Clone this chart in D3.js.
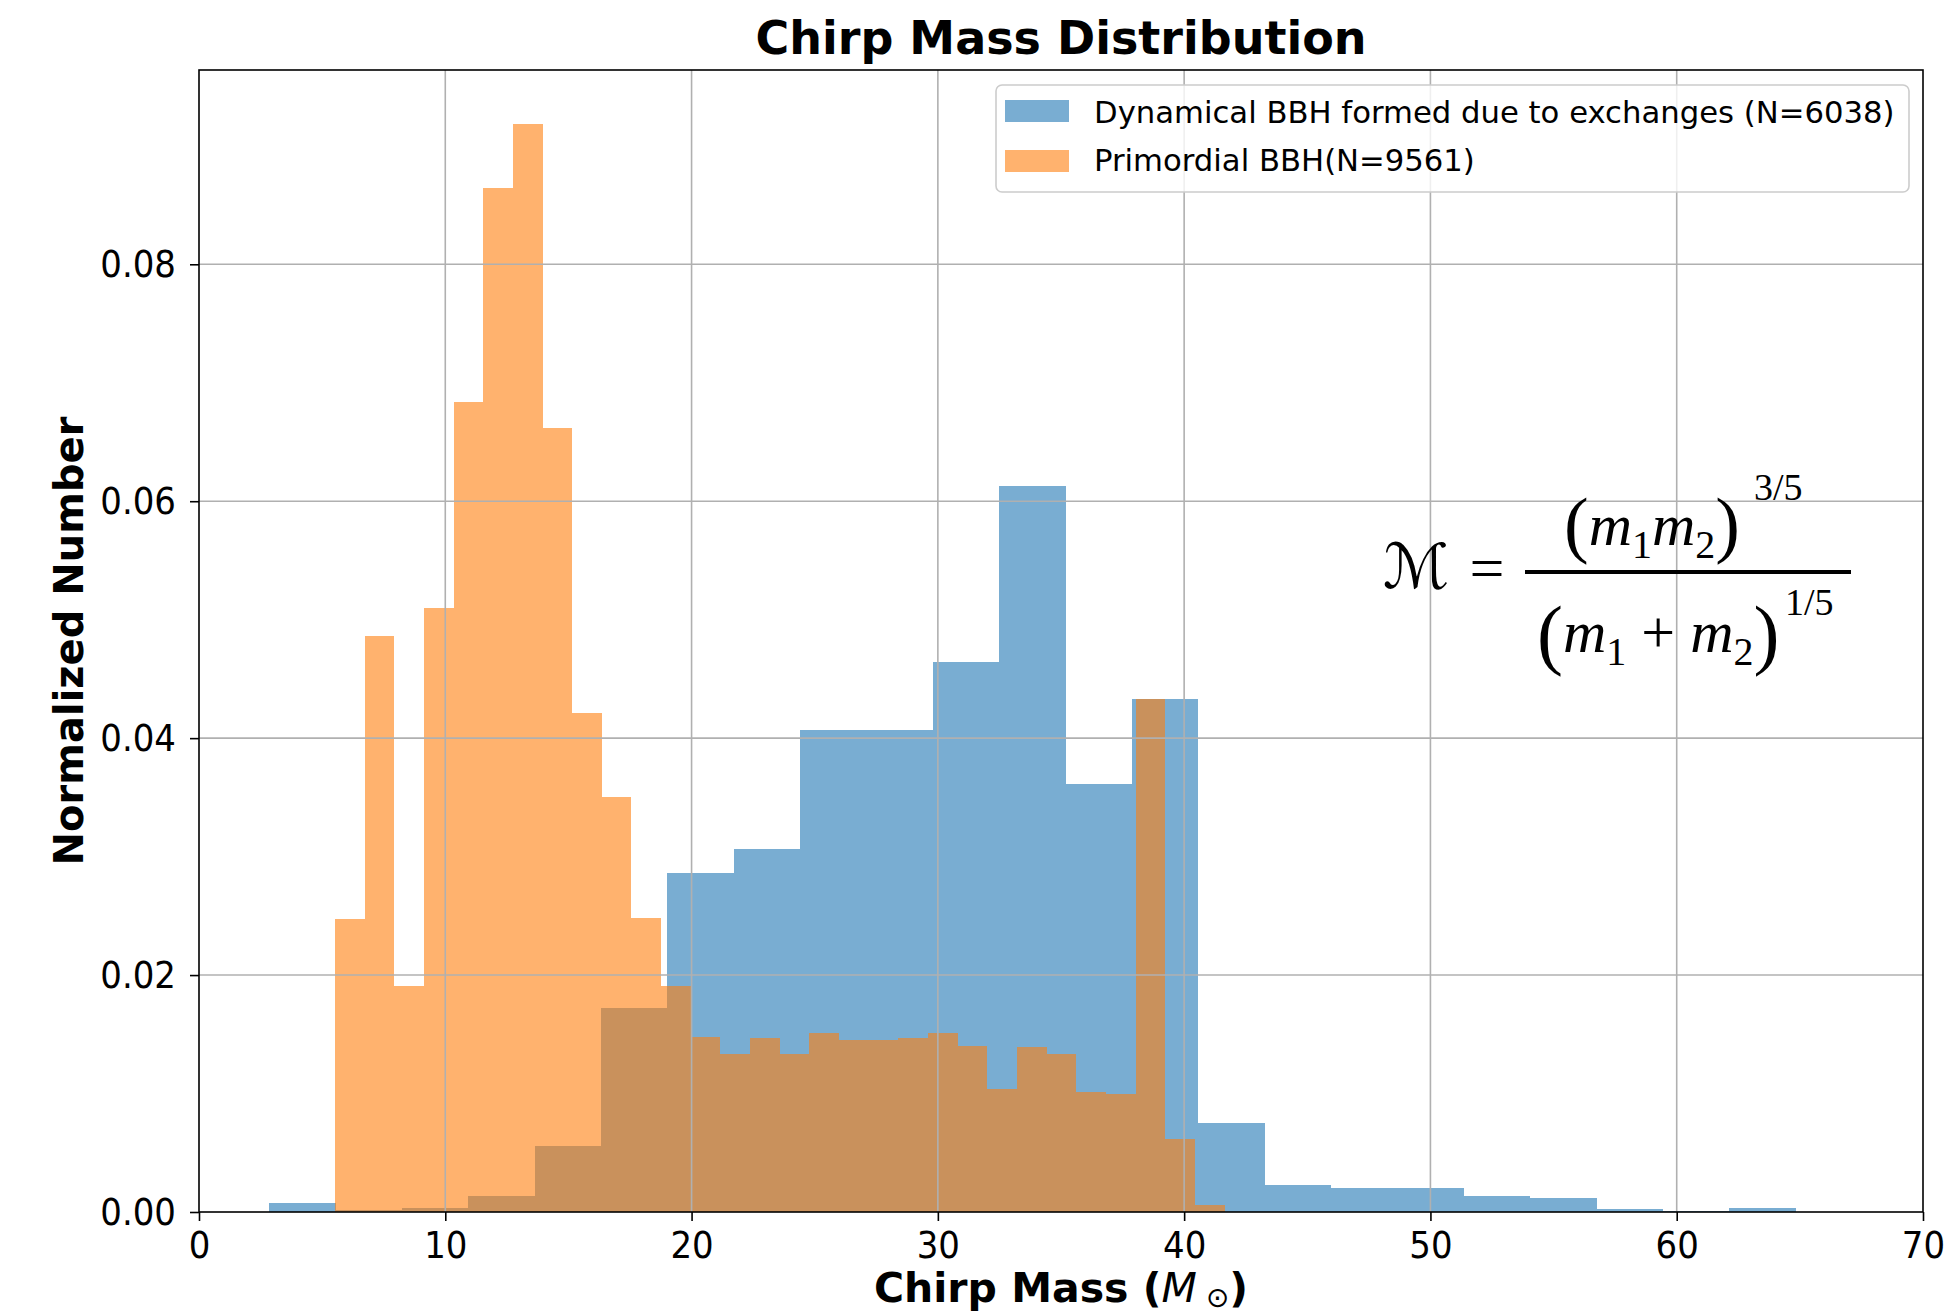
<!DOCTYPE html>
<html>
<head>
<meta charset="utf-8">
<script src="https://cdn.jsdelivr.net/npm/d3@7"></script>
<style>
  html, body { margin: 0; padding: 0; background: #ffffff; }
  svg { display: block; }
  .tick text { transform-box: fill-box; transform-origin: center; transform: scaleY(1.1); }
</style>
</head>
<body>
<svg id="chart" width="1952" height="1315"></svg>
<script>
// Histogram bin edges (chirp mass, solar masses) and normalized densities
const dynEdges = [2.85, 5.55, 8.24, 10.94, 13.63, 16.33, 19.02, 21.72, 24.41, 27.11, 29.80, 32.50,
                  35.19, 37.89, 40.58, 43.28, 45.97, 48.67, 51.36, 54.06, 56.75, 59.45, 62.14, 64.84];
const dynValues = [0.00073, 0.0002, 0.0003, 0.00135, 0.0056, 0.01719, 0.02858, 0.03063, 0.04065, 0.04065,
                   0.04644, 0.06132, 0.03614, 0.04329, 0.00748, 0.00229, 0.00201, 0.00201, 0.00136,
                   0.00122, 0.00028, 0.0001, 0.00031];

const priEdges = [5.52, 6.72, 7.93, 9.13, 10.34, 11.54, 12.74, 13.95, 15.15, 16.36, 17.56, 18.76, 19.97,
                  21.17, 22.38, 23.58, 24.78, 25.99, 27.19, 28.40, 29.60, 30.80, 32.01, 33.21, 34.42,
                  35.62, 36.82, 38.03, 39.23, 40.44, 41.64];
const priValues = [0.0247, 0.0486, 0.0191, 0.0510, 0.0684, 0.0864, 0.0918, 0.0662, 0.0421, 0.0350,
                   0.0248, 0.0191, 0.0148, 0.0133, 0.0147, 0.0133, 0.0151, 0.0145, 0.0145, 0.0147,
                   0.0151, 0.0140, 0.0104, 0.0139, 0.0133, 0.0101, 0.0100, 0.0433, 0.0062, 0.0006];

const seriesNames = ["Dynamical BBH formed due to exchanges (N=6038)", "Primordial BBH(N=9561)"];
const seriesColors = ["#1f77b4", "#ff7f0e"];

const xTicks = [0, 10, 20, 30, 40, 50, 60, 70];
const yTicks = [0.00, 0.02, 0.04, 0.06, 0.08];
const xDomain = [0, 70];
const yDomain = [0, 0.0964];

const plotLeft = 199, plotRight = 1923, plotTop = 70, plotBottom = 1212;

const svg = d3.select("#chart");
const x = d3.scaleLinear().domain(xDomain).range([plotLeft, plotRight]);
const y = d3.scaleLinear().domain(yDomain).range([plotBottom, plotTop]);

function toBins(edges, values) {
  return values.map((v, i) => ({ x0: edges[i], x1: edges[i + 1], v }));
}

// Bars: dynamical first, primordial over it, both translucent
const series = [toBins(dynEdges, dynValues), toBins(priEdges, priValues)];
series.forEach((bins, si) => {
  svg.append("g")
    .attr("fill", seriesColors[si])
    .attr("fill-opacity", 0.6)
    .attr("shape-rendering", "crispEdges")
    .selectAll("rect")
    .data(bins)
    .join("rect")
    .attr("x", d => x(d.x0))
    .attr("width", d => x(d.x1) - x(d.x0))
    .attr("y", d => y(d.v))
    .attr("height", d => y(0) - y(d.v));
});

// Grid lines
const grid = svg.append("g").attr("stroke", "#b0b0b0").attr("stroke-width", 1.6);
grid.selectAll("line.gx").data(xTicks.slice(1, -1)).join("line").attr("class", "gx")
  .attr("x1", d => x(d)).attr("x2", d => x(d)).attr("y1", plotTop).attr("y2", plotBottom);
grid.selectAll("line.gy").data(yTicks.slice(1)).join("line").attr("class", "gy")
  .attr("x1", plotLeft).attr("x2", plotRight).attr("y1", d => y(d)).attr("y2", d => y(d));

// Axes
const xAxis = svg.append("g")
  .attr("transform", `translate(0,${plotBottom})`)
  .call(d3.axisBottom(x).tickValues(xTicks).tickFormat(d3.format("d")).tickSize(9).tickPadding(12));
const yAxis = svg.append("g")
  .attr("transform", `translate(${plotLeft},0)`)
  .call(d3.axisLeft(y).tickValues(yTicks).tickFormat(d3.format(".2f")).tickSize(9).tickPadding(14));
[xAxis, yAxis].forEach(a => {
  a.select(".domain").remove();
  a.selectAll(".tick line").attr("stroke", "#000").attr("stroke-width", 1.6);
  a.selectAll(".tick text")
    .attr("font-family", "DejaVu Sans")
    .attr("font-size", 34)
    .attr("fill", "#000");
});

// Frame
svg.append("rect")
  .attr("x", plotLeft).attr("y", plotTop)
  .attr("width", plotRight - plotLeft).attr("height", plotBottom - plotTop)
  .attr("fill", "none").attr("stroke", "#000").attr("stroke-width", 1.6);

// Title and axis labels
svg.append("text")
  .attr("x", (plotLeft + plotRight) / 2).attr("y", 54)
  .attr("text-anchor", "middle")
  .attr("font-family", "DejaVu Sans").attr("font-weight", "bold").attr("font-size", 46)
  .text("Chirp Mass Distribution");

const xl = svg.append("text")
  .attr("x", (plotLeft + plotRight) / 2).attr("y", 1302)
  .attr("text-anchor", "middle")
  .attr("font-family", "DejaVu Sans").attr("font-size", 41);
xl.append("tspan").attr("font-weight", "bold").text("Chirp Mass (");
xl.append("tspan").attr("font-style", "italic").text("M");
xl.append("tspan").attr("font-size", 28).attr("dy", 5).text(" \u2299");
xl.append("tspan").attr("font-weight", "bold").attr("dy", -5).text(")");

svg.append("text")
  .attr("transform", `translate(83,${(plotTop + plotBottom) / 2}) rotate(-90)`)
  .attr("text-anchor", "middle")
  .attr("font-family", "DejaVu Sans").attr("font-weight", "bold").attr("font-size", 40)
  .text("Normalized Number");

// Legend
const lg = svg.append("g");
lg.append("rect")
  .attr("x", 996).attr("y", 85).attr("width", 913).attr("height", 107)
  .attr("rx", 6).attr("ry", 6)
  .attr("fill", "#ffffff").attr("fill-opacity", 0.8)
  .attr("stroke", "#cccccc").attr("stroke-width", 1.6);
const legendRows = [{ py: 100, ty: 123 }, { py: 150, ty: 171 }];
seriesNames.forEach((name, i) => {
  lg.append("rect")
    .attr("x", 1005).attr("y", legendRows[i].py).attr("width", 64).attr("height", 22)
    .attr("fill", seriesColors[i]).attr("fill-opacity", 0.6);
  lg.append("text")
    .attr("x", 1094).attr("y", legendRows[i].ty)
    .attr("font-family", "DejaVu Sans").attr("font-size", 30.7)
    .text(name);
});

// Chirp mass formula
const serif = "'Liberation Serif', 'DejaVu Serif', serif";
const f = svg.append("g").attr("font-family", serif).attr("fill", "#000");
f.append("text").attr("x", 1383).attr("y", 588).attr("font-size", 62)
  .attr("font-style", "italic")
  .attr("font-family", "'DejaVu Serif', 'DejaVu Sans', serif")
  .text("\u2133");
f.append("text").attr("x", 1487).attr("y", 589).attr("text-anchor", "middle").attr("font-size", 62).text("=");
f.append("line").attr("x1", 1525).attr("x2", 1851).attr("y1", 572).attr("y2", 572)
  .attr("stroke", "#000").attr("stroke-width", 4);

const num = f.append("text").attr("x", 1564).attr("y", 545).attr("font-size", 60);
num.append("tspan").attr("font-size", 74).attr("dy", 4).text("(");
num.append("tspan").attr("font-style", "italic").attr("dy", -4).text("m");
num.append("tspan").attr("font-size", 40).attr("dy", 13).text("1");
num.append("tspan").attr("font-style", "italic").attr("dy", -13).text("m");
num.append("tspan").attr("font-size", 40).attr("dy", 13).text("2");
num.append("tspan").attr("font-size", 74).attr("dy", -9).text(")");
f.append("text").attr("x", 1754).attr("y", 500).attr("font-size", 38).text("3/5");

const den = f.append("text").attr("x", 1537).attr("y", 652).attr("font-size", 60);
den.append("tspan").attr("font-size", 78).attr("dy", 8).text("(");
den.append("tspan").attr("font-style", "italic").attr("dy", -8).text("m");
den.append("tspan").attr("font-size", 40).attr("dy", 13).text("1");
den.append("tspan").attr("dy", -13).text(" + ");
den.append("tspan").attr("font-style", "italic").text("m");
den.append("tspan").attr("font-size", 40).attr("dy", 13).text("2");
den.append("tspan").attr("font-size", 78).attr("dy", -5).text(")");
f.append("text").attr("x", 1785).attr("y", 615).attr("font-size", 38).text("1/5");
</script>
</body>
</html>
